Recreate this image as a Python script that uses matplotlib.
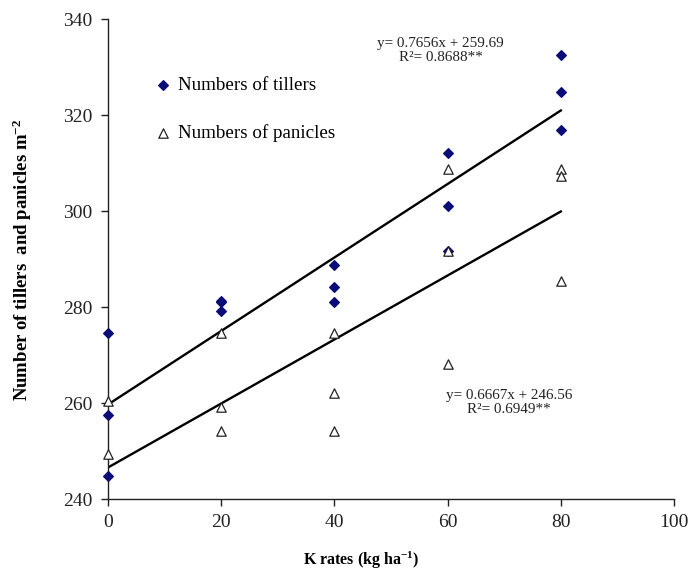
import matplotlib
matplotlib.use("Agg")
import matplotlib.pyplot as plt
import numpy as np

plt.rcParams['font.family'] = ['Liberation Serif', 'DejaVu Serif']
plt.rcParams['mathtext.fontset'] = 'custom'
plt.rcParams['mathtext.rm'] = 'Liberation Serif'
plt.rcParams['mathtext.bf'] = 'Liberation Serif:bold'
plt.rcParams['mathtext.it'] = 'Liberation Serif:italic'

# Data
tiller_x = [0, 0, 0, 20, 20, 20, 40, 40, 40, 60, 60, 60, 80, 80, 80]
tiller_y = [274.6, 257.6, 244.8, 281.2, 281.0, 279.2, 288.8, 284.1, 281.1,
            312.0, 301.1, 291.6, 332.5, 324.8, 316.9]
panicle_x = [0, 0, 20, 20, 20, 40, 40, 40, 60, 60, 60, 80, 80, 80]
panicle_y = [260.4, 249.4, 274.5, 259.1, 254.2, 274.5, 262.0, 254.2,
             308.8, 291.6, 268.1, 308.8, 307.2, 285.5]
fit_slopes = [0.7656, 0.6667]
fit_intercepts = [259.69, 246.56]
fit_range = [0, 80]
eq_texts = ["y= 0.7656x + 259.69\nR\u00b2= 0.8688**",
            "y= 0.6667x + 246.56\nR\u00b2= 0.6949**"]
series_labels = ["Numbers of tillers", "Numbers of panicles"]
x_ticks = [0, 20, 40, 60, 80, 100]
y_ticks = [240, 260, 280, 300, 320, 340]

fig = plt.figure(figsize=(6.9, 5.73), dpi=100)
ax = fig.add_axes([108/690, 1-499/573, 566/690, 480/573])

ax.scatter(tiller_x, tiller_y, marker='D', s=24, color='#0c0c78', zorder=3,
           label=series_labels[0], clip_on=False)
ax.scatter(panicle_x, panicle_y, marker='^', s=46, facecolor='white',
           edgecolor='#222222', linewidths=0.9, zorder=3, label=series_labels[1],
           clip_on=False)

xs = np.array(fit_range, dtype=float)
for m, b in zip(fit_slopes, fit_intercepts):
    ax.plot(xs, m*xs + b, color='black', lw=1.7, zorder=2)

ax.text(58.8, 333.4, eq_texts[0], ha='center', va='center', fontsize=10.9,
        multialignment='center', linespacing=1.15, color='#222222')
ax.text(70.8, 260.1, eq_texts[1], ha='center', va='center', fontsize=10.9,
        multialignment='center', linespacing=1.15, color='#222222')

ax.set_xlim(0, 100)
ax.set_ylim(240, 340)
ax.set_xticks(x_ticks)
ax.set_yticks(y_ticks)
ax.spines['top'].set_visible(False)
ax.spines['right'].set_visible(False)
for s in ['left', 'bottom']:
    ax.spines[s].set_linewidth(1.0)
    ax.spines[s].set_color('#222222')
ax.tick_params(axis='both', direction='out', length=5, width=1.0,
               labelsize=14, colors='#222222')
ax.tick_params(axis='x', pad=6)
ax.tick_params(axis='y', pad=6)

ax.set_xlabel(r"K rates (kg ha$^{\mathbf{-1}}$)", fontsize=11.5, fontweight='bold')
ax.xaxis.set_label_coords(0.447, -0.106)
ax.set_ylabel(r"Number of tillers  and panicles m$^{\mathbf{-2}}$", fontsize=13.5,
              fontweight='bold')
ax.yaxis.set_label_coords(-0.13, 0.498)

leg = ax.legend(loc='upper left', bbox_to_anchor=(0.074, 0.895), frameon=False,
                fontsize=13.7, handlelength=0.6, handletextpad=0.5,
                labelspacing=1.55, borderaxespad=0, scatterpoints=1)

fig.savefig("out.png", dpi=100)
